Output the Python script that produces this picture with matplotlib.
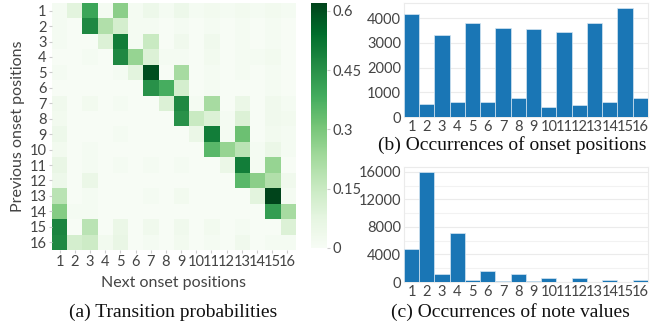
import numpy as np
import matplotlib.pyplot as plt

positions = [str(i) for i in range(1, 17)]

# transition probabilities, rows = previous onset, cols = next onset
trans = np.array([
    [.01, .08, .40, .01, .27, .01, .04, .01, .04, .01, .02, .01, .02, .01, .02, .01],
    [.01, .00, .47, .20, .12, .01, .01, .00, .01, .00, .01, .00, .01, .00, .01, .00],
    [.01, .00, .00, .10, .50, .01, .15, .00, .03, .00, .03, .00, .01, .00, .01, .00],
    [.00, .00, .01, .00, .47, .25, .10, .01, .01, .00, .02, .00, .01, .01, .02, .00],
    [.01, .00, .00, .00, .01, .08, .60, .00, .22, .00, .01, .00, .01, .00, .01, .00],
    [.00, .00, .00, .00, .00, .00, .45, .38, .12, .00, .01, .00, .00, .00, .01, .00],
    [.03, .00, .02, .00, .01, .00, .00, .10, .47, .01, .22, .00, .05, .00, .03, .01],
    [.02, .00, .00, .00, .00, .00, .00, .00, .45, .15, .10, .01, .10, .00, .03, .02],
    [.04, .00, .00, .00, .01, .00, .00, .00, .00, .05, .50, .01, .32, .00, .02, .01],
    [.02, .00, .01, .00, .00, .00, .00, .00, .00, .00, .35, .25, .18, .01, .05, .01],
    [.06, .00, .01, .00, .01, .00, .01, .00, .01, .00, .00, .05, .50, .01, .25, .00],
    [.04, .00, .05, .00, .00, .00, .00, .00, .00, .00, .00, .00, .35, .27, .20, .03],
    [.18, .00, .01, .00, .00, .00, .01, .00, .02, .00, .00, .00, .00, .08, .62, .01],
    [.28, .01, .01, .00, .00, .00, .00, .00, .00, .00, .00, .00, .00, .00, .42, .22],
    [.48, .00, .18, .00, .05, .00, .03, .00, .03, .00, .02, .00, .01, .00, .00, .10],
    [.47, .12, .14, .02, .06, .00, .01, .00, .02, .00, .01, .00, .03, .00, .01, .01],
])

onset_counts = [4160, 530, 3300, 600, 3790, 590, 3600, 760, 3570, 410,
                3450, 480, 3810, 610, 4390, 760]
note_counts = [4800, 15900, 1200, 7100, 250, 1600, 150, 1120, 100, 580,
               50, 580, 20, 340, 0, 290]

tick_font = dict(family='Lato', size=10.5, color='#444444')
label_font = dict(family='Lato', size=11.5, color='#444444')
bar_color = '#1a76b5'

fig = plt.figure(figsize=(6.7, 3.28), dpi=100)

# (a) heatmap
ax = fig.add_axes([0.0776, 0.238, 0.3627, 0.753])
cax = fig.add_axes([0.464, 0.244, 0.024, 0.747])
im = ax.imshow(trans, cmap='Greens', vmin=0, vmax=trans.max(), aspect='auto',
               interpolation='nearest')
ax.set_xticks(range(16))
ax.set_yticks(range(16))
ax.set_xticklabels(positions, fontdict=tick_font)
ax.set_yticklabels(positions, fontdict=tick_font)
ax.tick_params(length=2, color='#cccccc', pad=2)
for s in ax.spines.values():
    s.set_visible(False)
ax.set_xlabel('Next onset positions', fontdict=label_font, labelpad=5)
ax.set_ylabel('Previous onset positions', fontdict=label_font, labelpad=3)
cb = fig.colorbar(im, cax=cax, ticks=[0, 0.15, 0.3, 0.45, 0.6])
cb.ax.set_yticklabels(['0', '0.15', '0.3', '0.45', '0.6'], fontdict=tick_font)
cb.ax.tick_params(length=2, color='#cccccc', pad=2)
cb.outline.set_visible(False)


def bar_panel(rect, values, yticks):
    a = fig.add_axes(rect)
    x = np.arange(1, 17)
    a.bar(x, values, width=1.0, color=bar_color, edgecolor='#d6e6f2', linewidth=0.5, zorder=3)
    a.set_xlim(0.5, 16.5)
    a.set_ylim(0, max(values) * 1.05)
    a.set_xticks(x)
    a.set_xticklabels(positions, fontdict=tick_font)
    a.set_yticks(yticks)
    a.set_yticklabels([str(v) for v in yticks], fontdict=tick_font)
    a.tick_params(length=0, pad=2)
    a.grid(axis='y', color='#ebebeb', linewidth=0.8, zorder=0)
    for s in a.spines.values():
        s.set_color('#ebebeb')
    return a


bar_panel([0.603, 0.643, 0.364, 0.348], onset_counts, [0, 1000, 2000, 3000, 4000])
axc = bar_panel([0.603, 0.140, 0.364, 0.351], note_counts, [0, 4000, 8000, 12000, 16000])
axc.set_yticks([2000, 6000, 10000, 14000], minor=True)
axc.grid(axis='y', which='minor', color='#f2f2f2', linewidth=0.8, zorder=0)
axc.tick_params(which='minor', length=0)

title_font = dict(family='Liberation Serif', size=14, color='#111111')
fig.text(0.258, 0.048, '(a) Transition probabilities', ha='center', va='center', **title_font)
fig.text(0.764, 0.558, '(b) Occurrences of onset positions', ha='center', va='center', **title_font)
fig.text(0.762, 0.048, '(c) Occurrences of note values', ha='center', va='center', **title_font)

fig.savefig('out.png', dpi=100)
